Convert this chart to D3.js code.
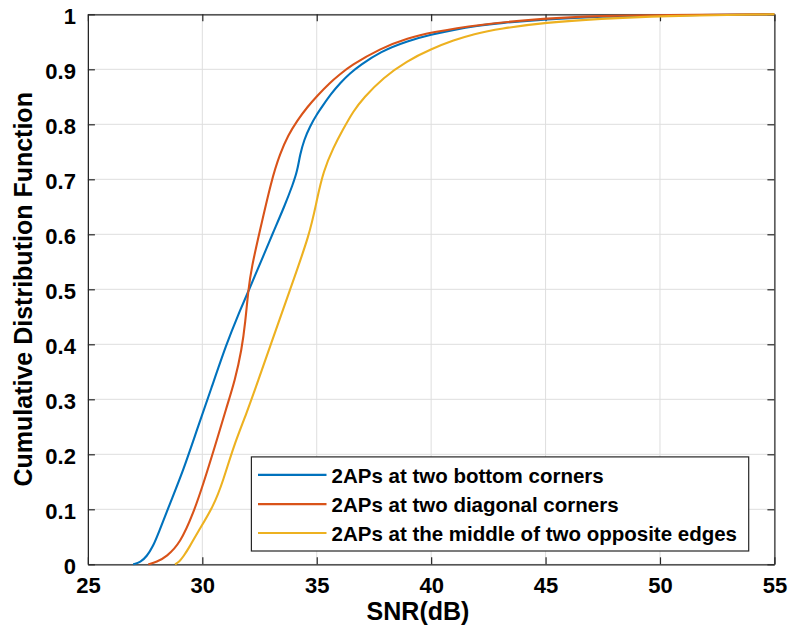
<!DOCTYPE html>
<html><head><meta charset="utf-8">
<script src="https://cdn.jsdelivr.net/npm/d3@7"></script>
<style>
html,body{margin:0;padding:0;background:#fff;}
text{font-family:"Liberation Sans",Arial,sans-serif;font-weight:bold;fill:#000;}
</style></head>
<body><svg id="c" width="790" height="633"></svg>
<script>
const xTicks = [25,30,35,40,45,50,55];
const yTicks = [0,0.1,0.2,0.3,0.4,0.5,0.6,0.7,0.8,0.9,1];
const seriesNames = ["2APs at two bottom corners","2APs at two diagonal corners","2APs at the middle of two opposite edges"];
const seriesColors = ["#0072BD","#D95319","#EDB120"];
const bottomCorners = [[26.98,0],[27.3,0.004],[27.57,0.014],[27.85,0.033],[28.08,0.056],[28.59,0.111],[29.17,0.171],[29.76,0.244],[30.41,0.322],[31.05,0.40],[31.55,0.452],[32.05,0.5],[32.71,0.565],[33.06,0.6],[33.6,0.652],[33.95,0.69],[34.15,0.715],[34.27,0.745],[34.45,0.772],[34.7,0.796],[35.0,0.818],[35.3,0.836],[35.62,0.855],[36.02,0.875],[36.46,0.893],[36.89,0.907],[37.77,0.932],[39,0.952],[40,0.963],[41,0.972],[42,0.979],[43,0.984],[45,0.991],[47.5,0.996],[50,0.998],[55,1]];
const diagonalCorners = [[27.64,0],[28.0,0.004],[28.44,0.014],[29.03,0.038],[29.61,0.093],[30.05,0.147],[30.55,0.214],[31.07,0.287],[31.43,0.335],[31.72,0.39],[31.88,0.44],[32.01,0.5],[32.16,0.541],[32.48,0.6],[33.03,0.7],[33.4,0.747],[33.75,0.78],[34.15,0.807],[34.6,0.832],[35.0,0.851],[35.58,0.876],[36.02,0.891],[36.46,0.906],[37.77,0.938],[39,0.957],[40,0.967],[42,0.981],[45,0.993],[47.4,0.997],[50,0.999],[55,1]];
const middleEdges = [[28.81,0],[29.0,0.005],[29.17,0.014],[29.45,0.032],[29.76,0.056],[30.49,0.105],[30.92,0.153],[31.36,0.214],[31.94,0.275],[32.45,0.335],[32.96,0.396],[33.83,0.499],[34.71,0.602],[35.0,0.662],[35.29,0.715],[35.73,0.758],[36.14,0.79],[36.6,0.824],[37.04,0.848],[37.91,0.885],[38.93,0.915],[40,0.937],[41,0.953],[41.84,0.964],[43,0.974],[45,0.985],[47.4,0.992],[50,0.997],[55,1]];
const allSeries = [bottomCorners, diagonalCorners, middleEdges];

const svg = d3.select("#c");
const L=87.9, R=774.4, T=14.3, B=564.3;
const x = d3.scaleLinear().domain([25,55]).range([L,R]);
const y = d3.scaleLinear().domain([0,1]).range([B,T]);

// grid
const g = svg.append("g");
g.selectAll(".vg").data(xTicks).enter().append("line")
 .attr("x1",d=>x(d)).attr("x2",d=>x(d)).attr("y1",T).attr("y2",B)
 .attr("stroke","#dedede").attr("stroke-width",1);
g.selectAll(".hg").data(yTicks).enter().append("line")
 .attr("x1",L).attr("x2",R).attr("y1",d=>y(d)).attr("y2",d=>y(d))
 .attr("stroke","#dedede").attr("stroke-width",1);

// axes (ticks inside)
const ax = svg.append("g");
const xb = ax.append("g").attr("transform",`translate(0,${B})`)
 .call(d3.axisBottom(x).tickValues(xTicks).tickSizeInner(-7).tickSizeOuter(0).tickPadding(13).tickFormat(d3.format("d")));
const xt = ax.append("g").attr("transform",`translate(0,${T})`)
 .call(d3.axisTop(x).tickValues(xTicks).tickSizeInner(-7).tickSizeOuter(0).tickFormat(""));
const yl = ax.append("g").attr("transform",`translate(${L},0)`)
 .call(d3.axisLeft(y).tickValues(yTicks).tickSizeInner(-7).tickSizeOuter(0).tickPadding(12).tickFormat(d=>d===0?"0":d===1?"1":d3.format(".1f")(d)));
const yr = ax.append("g").attr("transform",`translate(${R},0)`)
 .call(d3.axisRight(y).tickValues(yTicks).tickSizeInner(-7).tickSizeOuter(0).tickFormat(""));
ax.selectAll("path.domain").attr("stroke","#262626").attr("stroke-width",1.2);
ax.selectAll(".tick line").attr("stroke","#262626").attr("stroke-width",1.2);
ax.selectAll(".tick text").style("font-family","'Liberation Sans',Arial,sans-serif").style("font-weight","bold").style("font-size","22px").attr("fill","#262626");
xb.selectAll(".tick text").attr("dy","0.71em");
yl.selectAll(".tick text").attr("dy","0.42em");

// curves
const line = d3.line().x(d=>x(d[0])).y(d=>y(d[1])).curve(d3.curveBasis);
allSeries.forEach((s,i)=>{
 svg.append("path").datum(s).attr("d",line).attr("fill","none")
  .attr("stroke",seriesColors[i]).attr("stroke-width",2.1).attr("stroke-linejoin","round");
});

// labels
svg.append("text").attr("x",418).attr("y",620).attr("text-anchor","middle")
 .style("font-size","25px").attr("fill","#262626").text("SNR(dB)");
svg.append("text").attr("transform",`translate(32,${(T+B)/2}) rotate(-90)`).attr("text-anchor","middle")
 .style("font-size","25px").attr("fill","#262626").text("Cumulative Distribution Function");

// legend
const lg = svg.append("g");
lg.append("rect").attr("x",251.4).attr("y",456.9).attr("width",497.3).attr("height",94.1)
 .attr("fill","#fff").attr("stroke","#262626").attr("stroke-width",1.2);
const rowY = [474.9,504.1,533];
seriesNames.forEach((n,i)=>{
 lg.append("line").attr("x1",258).attr("x2",326.5).attr("y1",rowY[i]).attr("y2",rowY[i])
  .attr("stroke",seriesColors[i]).attr("stroke-width",2.1);
 lg.append("text").attr("x",331.5).attr("y",rowY[i]+7.8).style("font-size","20.5px").text(n);
});
</script></body></html>
